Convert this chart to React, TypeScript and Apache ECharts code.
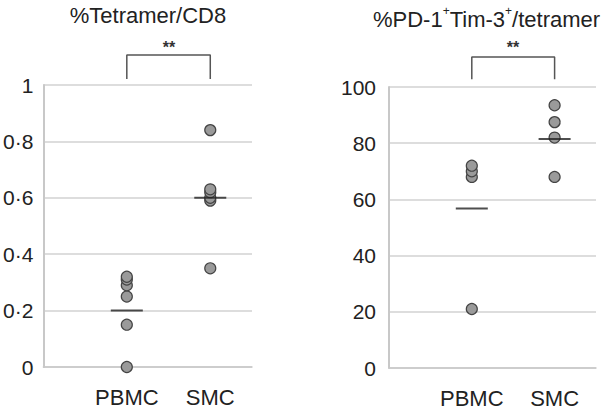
import React, { useEffect, useRef } from "react";
import * as echarts from "echarts";

const categories = ["PBMC", "SMC"];
const tetramerPBMC = [0, 0.15, 0.25, 0.29, 0.31, 0.32];
const tetramerSMC = [0.35, 0.59, 0.6, 0.62, 0.63, 0.84];
const tetramerBars = [0.2, 0.6];
const pdPBMC = [21, 68, 70, 72];
const pdSMC = [68, 82, 87.5, 93.5];
const pdBars = [56.8, 81.5];
const leftTicks = [0, 0.2, 0.4, 0.6, 0.8, 1];
const rightTicks = [0, 20, 40, 60, 80, 100];
const leftBracket = [1.021, 1.106];
const rightBracket = [102.8, 110.7];

const FONT = "Liberation Sans, Arial, Helvetica, sans-serif";

export default function App() {
  const ref = useRef<HTMLDivElement>(null);
  useEffect(() => {
    const chart = echarts.init(ref.current!, null, { renderer: "svg" });
    const xAxisBase = (gridIndex: number) => ({
      type: "value",
      gridIndex,
      min: 0,
      max: 2.5,
      interval: 1,
      axisLine: { show: true, lineStyle: { color: "#c8c8c8", width: 1.5 } },
      axisTick: { show: false },
      splitLine: { show: false },
      axisLabel: {
        color: "#222",
        fontSize: 22,
        fontFamily: FONT,
        margin: 19,
        showMaxLabel: false,
        formatter: (v: number) => (v === 1 ? categories[0] : v === 2 ? categories[1] : ""),
      },
    });
    const yAxisBase = (gridIndex: number, ticks: number[], margin: number) => ({
      type: "value",
      gridIndex,
      min: ticks[0],
      max: ticks[ticks.length - 1],
      interval: ticks[1] - ticks[0],
      axisLine: { show: true, lineStyle: { color: "#c8c8c8", width: 2 } },
      axisTick: { show: false },
      splitLine: { show: true, lineStyle: { color: "#d2d2d2", width: 1.5 } },
      axisLabel: {
        color: "#222",
        fontSize: 21,
        fontFamily: FONT,
        margin,
        formatter: (v: number) => String(Math.round(v * 100) / 100).replace(".", "·"),
      },
    });
    const dots = (xi: number, vals: number[], x: number) => ({
      type: "scatter",
      xAxisIndex: xi,
      yAxisIndex: xi,
      symbol: "circle",
      symbolSize: 11,
      itemStyle: { color: "#9a9a9a", borderColor: "#444", borderWidth: 1.2, opacity: 1 },
      data: vals.map((v) => [x, v]),
      z: 3,
    });
    const bars = (xi: number, vals: number[]) => ({
      type: "scatter",
      xAxisIndex: xi,
      yAxisIndex: xi,
      symbol: "rect",
      symbolSize: [32, 2],
      itemStyle: { color: "#222" },
      data: vals.map((v, i) => [i + 1, v]),
      z: 4,
    });
    const bracket = (xi: number, b: number[]) => ({
      type: "line",
      xAxisIndex: xi,
      yAxisIndex: xi,
      clip: false,
      symbol: "none",
      lineStyle: { color: "#555", width: 1.5 },
      data: [
        [1, b[0]],
        [1, b[1]],
        [2, b[1]],
        [2, b[0]],
      ],
    });
    chart.setOption({
      animation: false,
      grid: [
        { left: 43, right: 360, top: 85, bottom: 43 },
        { left: 389, right: 16, top: 87, bottom: 42 },
      ],
      xAxis: [xAxisBase(0), xAxisBase(1)],
      yAxis: [yAxisBase(0, leftTicks, 10), yAxisBase(1, rightTicks, 13)],
      series: [
        dots(0, tetramerPBMC, 1),
        dots(0, tetramerSMC, 2),
        bars(0, tetramerBars),
        bracket(0, leftBracket),
        dots(1, pdPBMC, 1),
        dots(1, pdSMC, 2),
        bars(1, pdBars),
        bracket(1, rightBracket),
      ],
      graphic: [
        {
          type: "text",
          x: 148,
          y: 4,
          style: {
            text: "%Tetramer/CD8",
            align: "center",
            fill: "#222",
            font: `22px ${FONT}`,
          },
        },
        {
          type: "text",
          x: 373,
          y: 5,
          style: {
            text: "{n|%PD-1}{s|+}{n|Tim-3}{s|+}{n|/tetramer}",
            fill: "#222",
            rich: {
              n: { fontSize: 22, fontFamily: FONT, color: "#222", verticalAlign: "bottom", lineHeight: 25 },
              s: { fontSize: 12, fontFamily: FONT, color: "#222", verticalAlign: "top", lineHeight: 25, padding: [0, 0, 11, 0] },
            },
          },
        },
        {
          type: "text",
          x: 169,
          y: 39,
          style: { text: "**", fill: "#333", font: `bold 16px ${FONT}`, align: "center" },
        },
        {
          type: "text",
          x: 513,
          y: 39,
          style: { text: "**", fill: "#333", font: `bold 16px ${FONT}`, align: "center" },
        },
      ],
    });
    return () => chart.dispose();
  }, []);
  return <div ref={ref} style={{ width: 612, height: 410, position: "absolute", left: 0, top: 0 }} />;
}
